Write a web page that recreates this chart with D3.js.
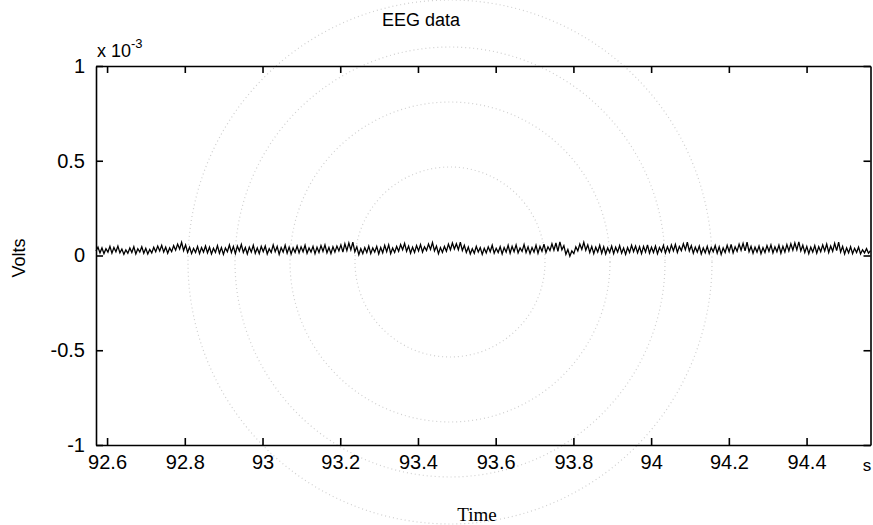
<!DOCTYPE html>
<html><head><meta charset="utf-8">
<script src="https://cdn.jsdelivr.net/npm/d3@7/dist/d3.min.js"></script>
<style>
html,body{margin:0;padding:0;background:#fff;}
svg{display:block;}
.num{font-family:"Liberation Sans",Arial,sans-serif;}
</style></head>
<body><svg id="c" width="873" height="525"></svg>
<script>
// ---- data (values in units of 1e-3 V) ----
const title = "EEG data";
const xLabel = "Time";
const yLabel = "Volts";
const xUnit = "s";
const timeStart = 92.5715;
const timeEnd = 94.5645;
const xTicks = [92.6, 92.8, 93, 93.2, 93.4, 93.6, 93.8, 94, 94.2, 94.4];
const yTicks = [-1, -0.5, 0, 0.5, 1];
const yTickLabels = ["-1", "-0.5", "0", "0.5", "1"];
const eeg = [
0.024,0.044,0.014,0.040,0.010,0.036,0.018,0.048,0.012,0.042,0.020,0.050,0.014,0.034,0.006,0.030,0.012,0.040,0.016,0.046,
0.008,0.036,0.018,0.046,0.012,0.038,0.008,0.032,0.014,0.044,0.020,0.050,0.024,0.054,0.018,0.044,0.012,0.040,0.020,0.052,
0.028,0.060,0.034,0.070,0.026,0.056,0.016,0.044,0.010,0.038,0.016,0.048,0.010,0.042,0.018,0.050,0.014,0.044,0.008,0.038,
0.016,0.052,0.012,0.042,0.006,0.040,0.020,0.056,0.016,0.048,0.010,0.050,0.024,0.058,0.016,0.042,0.008,0.044,0.018,0.054,
0.012,0.040,0.010,0.048,0.020,0.050,0.008,0.036,0.016,0.056,0.020,0.048,0.006,0.042,0.018,0.054,0.012,0.044,0.008,0.040,
0.016,0.050,0.014,0.046,0.020,0.054,0.012,0.040,0.018,0.048,0.010,0.044,0.016,0.052,0.022,0.056,0.014,0.042,0.010,0.046,
0.018,0.050,0.024,0.056,0.018,0.062,0.026,0.066,0.030,0.070,0.020,0.046,0.004,0.036,0.010,0.042,0.016,0.050,0.010,0.040,
0.018,0.048,0.008,0.042,0.014,0.054,0.020,0.056,0.010,0.040,0.016,0.048,0.022,0.058,0.030,0.064,0.022,0.050,0.012,0.044,
0.016,0.052,0.024,0.058,0.018,0.046,0.026,0.060,0.032,0.068,0.024,0.050,0.010,0.042,0.016,0.048,0.022,0.060,0.030,0.066,
0.034,0.062,0.030,0.070,0.026,0.054,0.016,0.044,0.008,0.036,0.012,0.048,0.018,0.042,0.006,0.038,0.014,0.046,0.020,0.054,
0.012,0.038,0.016,0.046,0.008,0.042,0.018,0.054,0.012,0.048,0.020,0.056,0.014,0.040,0.022,0.058,0.016,0.046,0.010,0.042,
0.018,0.054,0.012,0.048,0.022,0.060,0.016,0.046,0.026,0.062,0.028,0.066,0.022,0.072,0.030,0.052,0.006,0.032,-0.004,0.024,
0.010,0.046,0.024,0.060,0.032,0.070,0.028,0.056,0.016,0.048,0.010,0.044,0.018,0.054,0.012,0.046,0.008,0.040,0.016,0.050,
0.010,0.044,0.018,0.052,0.012,0.040,0.006,0.042,0.016,0.054,0.020,0.050,0.014,0.046,0.010,0.048,0.018,0.056,0.012,0.044,
0.016,0.050,0.010,0.042,0.020,0.054,0.014,0.046,0.018,0.056,0.024,0.058,0.016,0.048,0.026,0.062,0.030,0.070,0.024,0.052,
0.012,0.044,0.018,0.050,0.008,0.040,0.014,0.048,0.010,0.042,0.020,0.052,0.012,0.046,0.006,0.040,0.016,0.054,0.020,0.058,
0.014,0.046,0.022,0.060,0.028,0.064,0.024,0.070,0.020,0.048,0.012,0.044,0.018,0.050,0.010,0.042,0.016,0.052,0.022,0.056,
0.014,0.046,0.020,0.054,0.012,0.048,0.018,0.058,0.024,0.062,0.028,0.066,0.030,0.072,0.024,0.054,0.016,0.048,0.010,0.044,
0.018,0.052,0.012,0.046,0.020,0.056,0.024,0.060,0.016,0.050,0.022,0.064,0.026,0.070,0.018,0.048,0.008,0.040,0.014,0.046,
0.010,0.038,0.016,0.044,0.008,0.030,0.014,0.036,0.012,0.026
];

// ---- layout ----
const W = 873, H = 525;
const m = {left: 96, right: 2.5, top: 66, bottom: 80};
const svg = d3.select("#c");

// faint scanned watermark rings (background)
const rings = [95, 160, 215, 262];
svg.append("g").selectAll("circle").data(rings).join("circle")
  .attr("cx", 450).attr("cy", 262).attr("r", d => d)
  .attr("fill", "none").attr("stroke", "#cfcfcf").attr("stroke-width", 1.2)
  .attr("stroke-dasharray", "1 3");

const x = d3.scaleLinear().domain([timeStart, timeEnd]).range([m.left, W - m.right]);
const y = d3.scaleLinear().domain([-1, 1]).range([H - m.bottom, m.top]);
const dt = (timeEnd - timeStart) / (eeg.length - 1);

// line
const line = d3.line().x((d, i) => x(timeStart + i * dt)).y(d => y(d));
svg.append("path").datum(eeg).attr("d", line)
  .attr("fill", "none").attr("stroke", "#000").attr("stroke-width", 1.3)
  .attr("stroke-linejoin", "miter");

// axes
const tickLen = 7;
const fmtY = (d) => yTickLabels[yTicks.indexOf(d)];
const gB = svg.append("g").attr("transform", `translate(0,${H - m.bottom})`)
  .call(d3.axisBottom(x).tickValues(xTicks).tickSizeInner(-tickLen).tickSizeOuter(0).tickPadding(12).tickFormat(d3.format("")));
const gT = svg.append("g").attr("transform", `translate(0,${m.top})`)
  .call(d3.axisTop(x).tickValues(xTicks).tickSizeInner(-tickLen).tickSizeOuter(0).tickFormat(""));
const gL = svg.append("g").attr("transform", `translate(${m.left},0)`)
  .call(d3.axisLeft(y).tickValues(yTicks).tickSizeInner(-tickLen).tickSizeOuter(0).tickPadding(11).tickFormat(fmtY));
const gR = svg.append("g").attr("transform", `translate(${W - m.right},0)`)
  .call(d3.axisRight(y).tickValues(yTicks).tickSizeInner(-tickLen).tickSizeOuter(0).tickFormat(""));
[gB, gT, gL, gR].forEach(g => {
  g.select(".domain").attr("stroke", "#000").attr("stroke-width", 1.6);
  g.selectAll(".tick line").attr("stroke", "#000").attr("stroke-width", 1.6);
  g.selectAll("text").attr("class", "num").attr("font-size", 20).attr("fill", "#000");
});
gB.selectAll("text").attr("dy", "0.71em").attr("y", 10);

// exponent label
const ex = svg.append("text").attr("class", "num").attr("x", m.left + 1).attr("y", 57)
  .attr("font-size", 18).attr("fill", "#000");
ex.append("tspan").text("x 10");
ex.append("tspan").attr("font-size", 13).attr("dy", -9).text("-3");

// unit "s"
svg.append("text").attr("class", "num").attr("x", 867).attr("y", 471)
  .attr("text-anchor", "middle").attr("font-size", 17).text(xUnit);

// title
svg.append("text").attr("class", "num").attr("x", 421).attr("y", 26)
  .attr("text-anchor", "middle").attr("font-size", 18).text(title);

// y label
svg.append("text").attr("class", "num").attr("transform", "translate(25,258) rotate(-90)")
  .attr("text-anchor", "middle").attr("font-size", 18).text(yLabel);

// x label
svg.append("text").attr("x", 477).attr("y", 521)
  .attr("text-anchor", "middle").attr("font-family", "'Liberation Serif','Times New Roman',serif")
  .attr("font-size", 19).text(xLabel);
</script></body></html>
